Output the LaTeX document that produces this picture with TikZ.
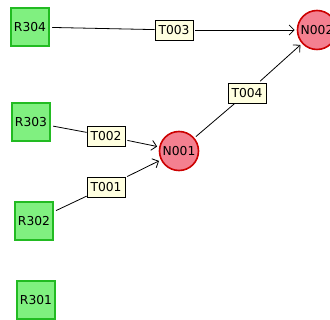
\documentclass[tikz,border=0pt]{standalone}
\usepackage{fontspec}
\setmainfont{DejaVu Sans}
\usetikzlibrary{arrows.meta}
\definecolor{rbox}{RGB}{128,240,128}
\definecolor{rborder}{RGB}{34,187,34}
\definecolor{nfill}{RGB}{244,128,144}
\definecolor{nborder}{RGB}{204,0,0}
\definecolor{tfill}{RGB}{255,255,224}
\begin{document}
\begin{tikzpicture}[x=1pt,y=-1pt,
  lbl/.style={font=\fontsize{12.3}{13}\selectfont},
  resource/.style={lbl,draw=rborder,fill=rbox,line width=2.5pt,minimum size=38pt,inner sep=0pt},
  place/.style={lbl,circle,draw=nborder,fill=nfill,line width=1.6pt,minimum size=39pt,inner sep=0pt},
  trans/.style={lbl,draw=black,fill=tfill,line width=0.8pt,minimum width=38pt,minimum height=20pt,inner sep=1pt},
  link/.style={draw=black,line width=0.8pt,shorten <=2pt},
  arc/.style={link,-{Straight Barb[length=5pt,width=10pt,line width=0.8pt]},shorten >=2pt}]
\useasboundingbox (0,0) rectangle (330,320);
\clip (0,0) rectangle (330,320);
\node[resource] (R304) at (30,27) {R304};
\node[resource] (R303) at (31,122) {R303};
\node[resource] (R302) at (34,221) {R302};
\node[resource] (R301) at (36,300) {R301};
\node[place] (N001) at (179,151) {N001};
\node[place] (N002) at (317,30) {N002};
\node[trans] (T003) at (174,30) {T003};
\node[trans] (T002) at (106,136) {T002};
\node[trans] (T001) at (106,187) {T001};
\node[trans] (T004) at (247,93) {T004};
\draw[link] (R304) -- (T003);
\draw[arc] (T003) -- (N002);
\draw[link] (R303) -- (T002);
\draw[arc] (T002) -- (N001);
\draw[link] (R302) -- (T001);
\draw[arc] (T001) -- (N001);
\draw[link] (N001) -- (T004);
\draw[arc] (T004) -- (N002);
\end{tikzpicture}
\end{document}
